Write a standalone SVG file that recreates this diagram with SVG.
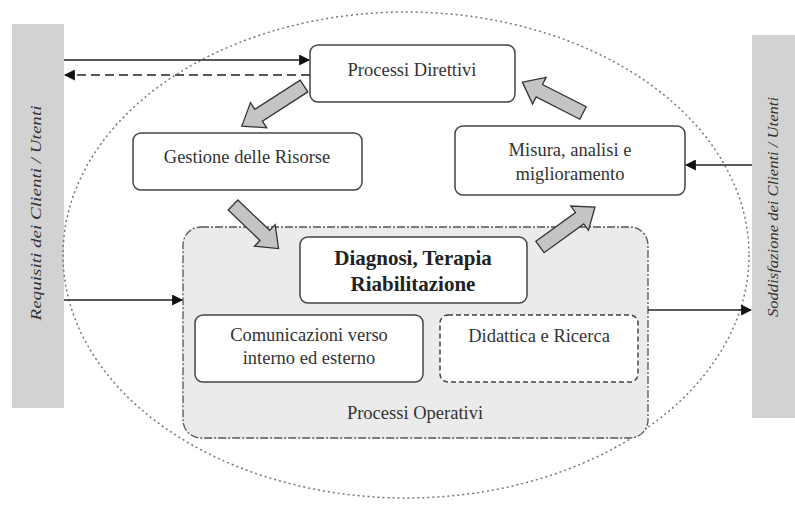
<svg xmlns="http://www.w3.org/2000/svg" width="795" height="505" viewBox="0 0 795 505">
<style>
.t{font-family:"Liberation Serif","Times New Roman",serif;font-size:18.5px;fill:#333;text-anchor:middle}
.b{font-weight:bold;font-size:21px;fill:#222}
.v{font-family:"Liberation Serif","Times New Roman",serif;font-size:15px;font-style:italic;fill:#333;text-anchor:middle}
.box{fill:#fff;stroke:#444;stroke-width:1.5}
.ln{stroke:#222;stroke-width:1.6;fill:none}
.blk{fill:#c4c4c4;stroke:#333;stroke-width:1.3}
</style>
<defs>
<marker id="ah" viewBox="0 0 10 10" refX="9" refY="5" markerWidth="11" markerHeight="11" markerUnits="userSpaceOnUse" orient="auto">
<path d="M0,0 L10,5 L0,10 z" fill="#111"/>
</marker>
</defs>
<g id="left-bar"><rect x="12" y="24" width="52" height="384" fill="#d2d2d2"/>
<text class="v" transform="translate(41,213) rotate(-90)" textLength="215" lengthAdjust="spacingAndGlyphs">Requisiti dei Clienti  /  Utenti</text></g>
<g id="right-bar"><rect x="752" y="35" width="43" height="383" fill="#d2d2d2"/>
<text class="v" transform="translate(778,207) rotate(-90)" textLength="220" lengthAdjust="spacingAndGlyphs">Soddisfazione dei Clienti  /  Utenti</text></g>
<g id="ellipse"><ellipse cx="406" cy="255" rx="343" ry="243" fill="none" stroke="#777" stroke-width="1.5" stroke-dasharray="2,3"/></g>
<g id="processi-operativi"><rect x="183" y="227" width="465" height="211" rx="18" fill="#ebebeb" stroke="#555" stroke-width="1.3" stroke-dasharray="8,2,2,2"/>
<text class="t" x="415" y="419">Processi Operativi</text></g>
<g id="processi-direttivi"><rect class="box" x="310" y="45" width="205" height="57" rx="8"/><text class="t" x="412" y="76">Processi Direttivi</text></g>
<g id="gestione"><rect class="box" x="133" y="133" width="229" height="57" rx="8"/><text class="t" x="247" y="163">Gestione delle Risorse</text></g>
<g id="misura"><rect class="box" x="455" y="126" width="230" height="69" rx="8"/><text class="t" x="570" y="156">Misura, analisi e</text><text class="t" x="570" y="180">miglioramento</text></g>
<g id="diagnosi"><rect class="box" x="300" y="237" width="227" height="66" rx="8"/><text class="t b" x="413" y="265">Diagnosi, Terapia</text><text class="t b" x="413" y="291">Riabilitazione</text></g>
<g id="comunicazioni"><rect class="box" x="195" y="315" width="228" height="67" rx="8"/><text class="t" x="309" y="341">Comunicazioni verso</text><text class="t" x="309" y="364">interno ed esterno</text></g>
<g id="didattica"><rect class="box" x="440" y="315" width="198" height="67" rx="8" stroke-dasharray="5,3"/><text class="t" x="539" y="342">Didattica e Ricerca</text></g>
<g id="connectors">
<line class="ln" x1="64" y1="60" x2="309" y2="60" marker-end="url(#ah)"/>
<line class="ln" x1="310" y1="75" x2="65" y2="75" stroke-dasharray="9,5" marker-end="url(#ah)"/>
<line class="ln" x1="64" y1="300" x2="182" y2="300" marker-end="url(#ah)"/>
<line class="ln" x1="648" y1="310" x2="751" y2="310" marker-end="url(#ah)"/>
<line class="ln" x1="752" y1="165" x2="686" y2="165" marker-end="url(#ah)"/>
<path class="blk" transform="translate(304,86) rotate(147.2)" d="M0,-7 L54,-7 L54,-15 L74,0 L54,15 L54,7 L0,7 Z"/>
<path class="blk" transform="translate(233,205) rotate(43.7)" d="M0,-7 L44,-7 L44,-15 L63,0 L44,15 L44,7 L0,7 Z"/>
<path class="blk" transform="translate(540,247) rotate(-36)" d="M0,-7 L49,-7 L49,-15 L68,0 L49,15 L49,7 L0,7 Z"/>
<path class="blk" transform="translate(583,113) rotate(207)" d="M0,-7 L49,-7 L49,-15 L68,0 L49,15 L49,7 L0,7 Z"/>
</g>
</svg>
